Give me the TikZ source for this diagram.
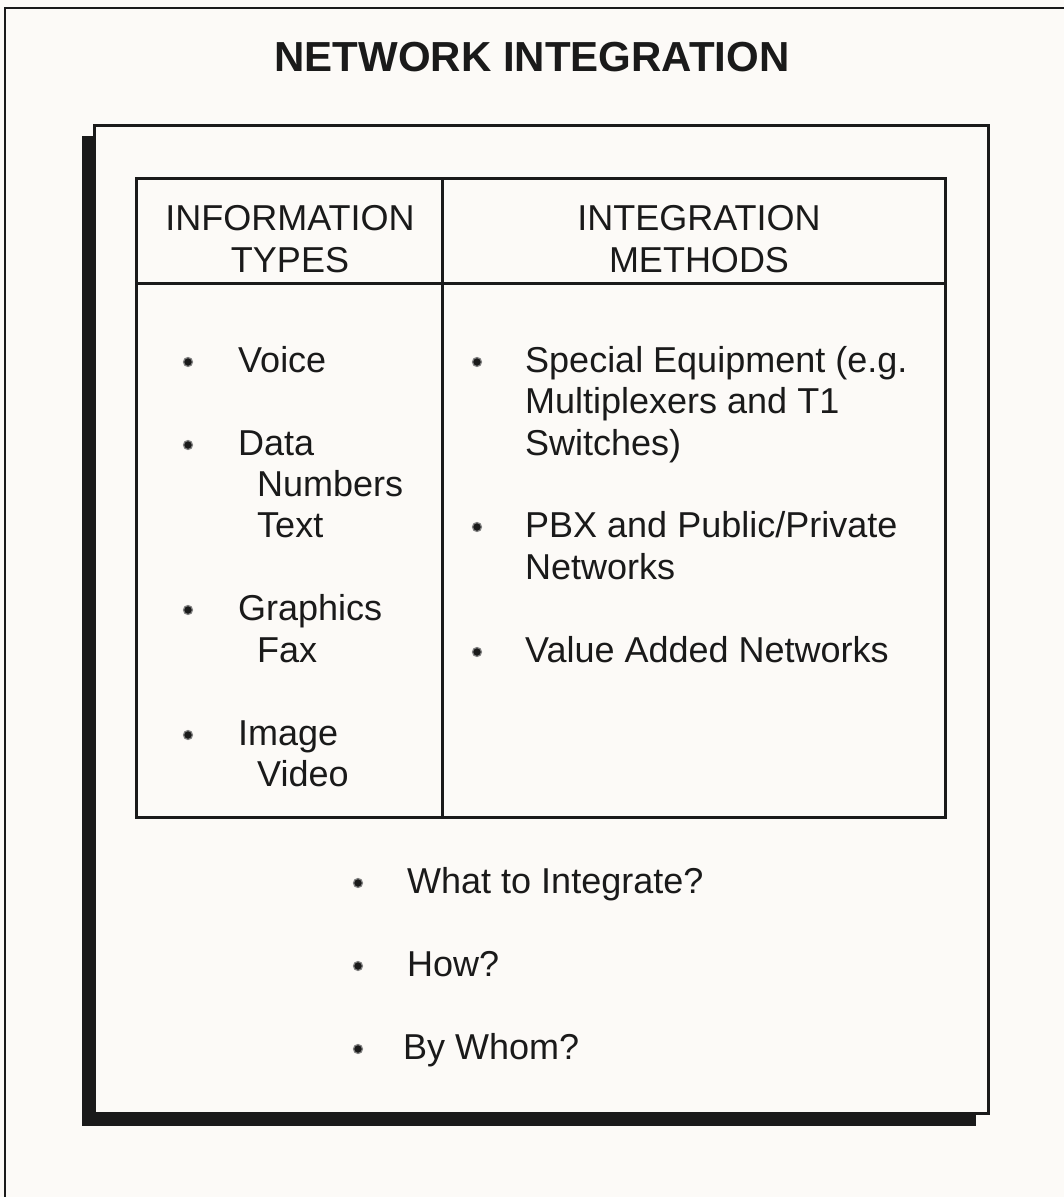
\documentclass[tikz,border=0pt]{standalone}
\usepackage{fontspec}
\setmainfont{Liberation Sans}
\definecolor{paper}{HTML}{FCFAF7}
\definecolor{ink}{HTML}{1A1A1A}
\begin{document}
\begin{tikzpicture}[x=1pt,y=-1pt,
  txt/.style={inner sep=0pt, anchor=base west, text=ink, font=\fontsize{36}{41}\selectfont},
  head/.style={inner sep=0pt, anchor=base, text=ink, font=\fontsize{36}{41}\selectfont},
  dot/.style={circle, fill=ink, draw=ink!55, line width=1.2pt, inner sep=0pt, minimum size=9pt},
  rule/.style={draw=ink, line width=3pt}]
\useasboundingbox (0,0) rectangle (1064,1197);
\fill[paper] (0,0) rectangle (1064,1197);

% page frame (top and left edges)
\draw[ink, line width=2pt] (5,1197) -- (5,8) -- (1064,8);

% title
\node[inner sep=0pt, anchor=base, text=ink, font=\fontsize{42}{50}\selectfont\bfseries]
  (title) at (532,71) {NETWORK INTEGRATION};

% panel with drop shadow
\fill[ink] (82,136) rectangle (976,1126);
\filldraw[fill=paper, rule] (94,125) rectangle (988,1113);

% table
\draw[rule] (136,178) rectangle (945,817);
\draw[rule] (136,283) -- (945,283);
\draw[rule] (442,178) -- (442,817);

% column heads
\node[head] (h1a) at (290,230) {INFORMATION};
\node[head] (h1b) at (290,272) {TYPES};
\node[head] (h2a) at (699,230) {INTEGRATION};
\node[head] (h2b) at (699,272) {METHODS};

% information types
\node[dot] (b1) at (188,362) {};
\node[txt] (voice) at (238,372) {Voice};
\node[dot] (b2) at (188,445) {};
\node[txt] (data) at (238,455) {Data};
\node[txt] (numbers) at (257,496) {Numbers};
\node[txt] (text) at (257,537) {Text};
\node[dot] (b3) at (188,610) {};
\node[txt] (graphics) at (238,620) {Graphics};
\node[txt] (fax) at (257,662) {Fax};
\node[dot] (b4) at (188,735) {};
\node[txt] (image) at (238,745) {Image};
\node[txt] (video) at (257,786) {Video};

% integration methods
\node[dot] (m1) at (477,362) {};
\node[txt] (spec1) at (525,372) {Special Equipment (e.g.};
\node[txt] (spec2) at (525,413) {Multiplexers and T1};
\node[txt] (spec3) at (525,455) {Switches)};
\node[dot] (m2) at (477,527) {};
\node[txt] (pbx1) at (525,537) {PBX and Public/Private};
\node[txt] (pbx2) at (525,579) {Networks};
\node[dot] (m3) at (477,652) {};
\node[txt] (van) at (525,662) {Value Added Networks};

% questions
\node[dot] (q1) at (358,883) {};
\node[txt] (what) at (407,893) {What to Integrate?};
\node[dot] (q2) at (358,966) {};
\node[txt] (how) at (407,976) {How?};
\node[dot] (q3) at (358,1049) {};
\node[txt] (whom) at (403,1059) {By Whom?};
\end{tikzpicture}
\end{document}
